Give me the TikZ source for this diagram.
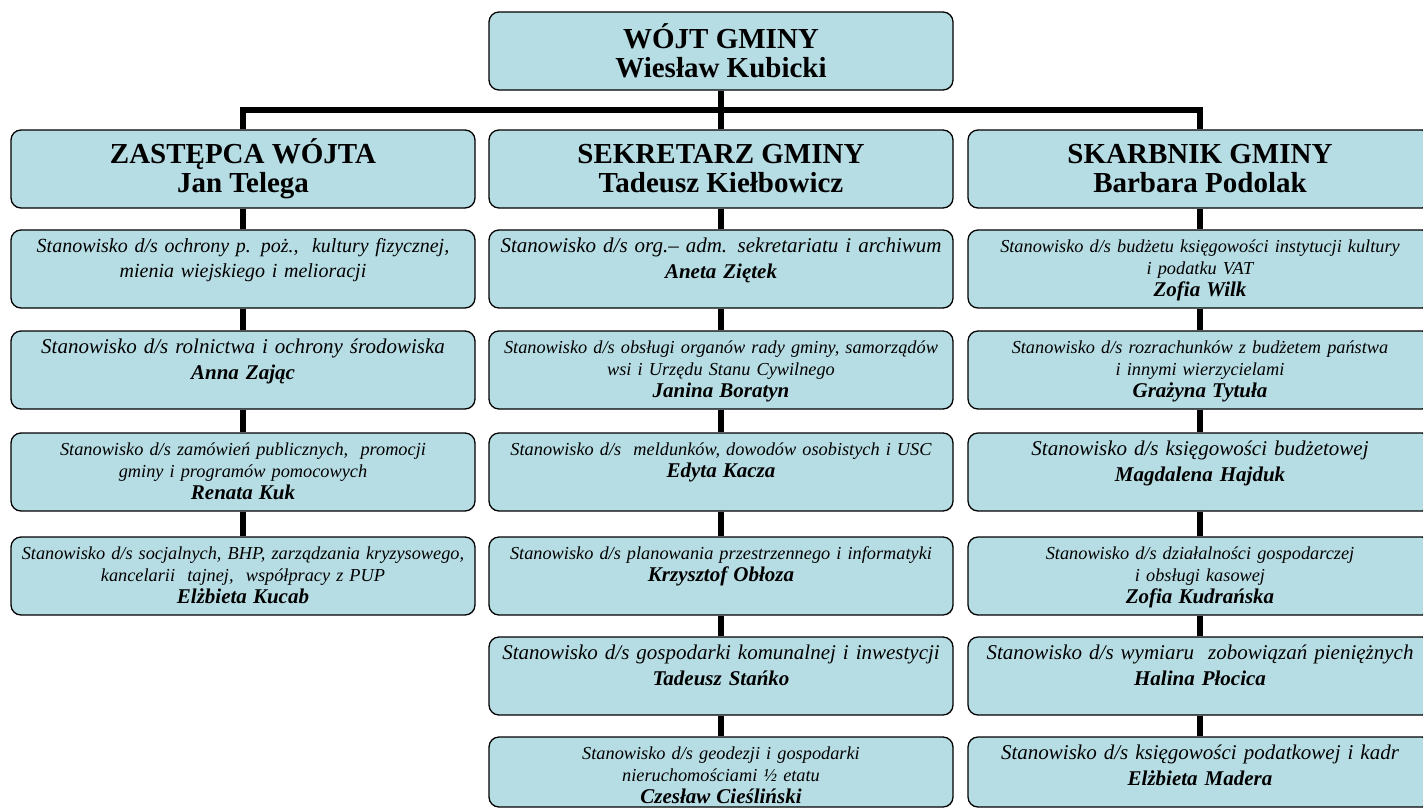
\documentclass[tikz,border=0pt]{standalone}
\usepackage{fontspec}
\setmainfont{Liberation Serif}
\usetikzlibrary{positioning,calc}
\definecolor{boxfill}{RGB}{183,221,228}
\tikzset{
  box/.style={
    draw,
    line width=1.3pt,
    rounded corners=10pt,
    fill=boxfill,
    inner xsep=4pt
  },
  head/.style={
    box,
    minimum width=464pt,
    minimum height=78pt,
    align=center,
    font=\fontsize{29}{29}\selectfont\bfseries
  },
  post/.style={
    box,
    align=center,
    text width=456pt,
    text height=18pt,
    text depth=52pt,
    inner ysep=4pt
  },
  last/.style={text depth=44pt},
  big/.style={font=\fontsize{21}{26}\selectfont\itshape},
  small/.style={font=\fontsize{18.3}{22}\selectfont\itshape},
  conn/.style={line width=5.5pt}
}
\newcommand{\who}[1]{{\fontsize{21}{24}\selectfont\bfseries #1}}

\begin{document}
\begin{tikzpicture}[x=1pt,y=-1pt]
\clip (0,0) rectangle (1423,809);
% kierownictwo
\node (wojt)  [head] at (721,51)   {WÓJT GMINY\\Wiesław Kubicki};
\node (zast)  [head] at (243,169)  {ZASTĘPCA WÓJTA\\Jan Telega};
\node (sekr)  [head] at (721,169)  {SEKRETARZ GMINY\\Tadeusz Kiełbowicz};
\node (skarb) [head] at (1200,169) {SKARBNIK GMINY\\Barbara Podolak};
% zastepca
\node (z1) [post,font=\fontsize{20}{25}\selectfont\itshape] at (243,269) {Stanowisko d/s ochrony p. poż.,\ \ kultury fizycznej,\\mienia wiejskiego i melioracji};
\node (z2) [post,big]   at (243,370) {Stanowisko d/s rolnictwa i ochrony środowiska\\\who{Anna Zając}};
\node (z3) [post,small] at (243,472) {Stanowisko d/s zamówień publicznych,\ \ promocji\\gminy i programów pomocowych\\\who{Renata Kuk}};
\node (z4) [post,small] at (243,576) {Stanowisko d/s socjalnych, BHP, zarządzania kryzysowego,\\kancelarii\ \ tajnej,\ \ współpracy z PUP\\\who{Elżbieta Kucab}};
% sekretarz
\node (s1) [post,big]   at (721,269) {Stanowisko d/s org.– adm. sekretariatu i archiwum\\\who{Aneta Ziętek}};
\node (s2) [post,small] at (721,370) {Stanowisko d/s obsługi organów rady gminy, samorządów\\wsi i Urzędu Stanu Cywilnego\\\who{Janina Boratyn}};
\node (s3) [post,small] at (721,472) {Stanowisko d/s\ \ meldunków, dowodów osobistych i USC\\\who{Edyta Kacza}};
\node (s4) [post,small] at (721,576) {Stanowisko d/s planowania przestrzennego i informatyki\\\who{Krzysztof Obłoza}};
\node (s5) [post,big]   at (721,676) {Stanowisko d/s gospodarki komunalnej i inwestycji\\\who{Tadeusz Stańko}};
\node (s6) [post,small,last] at (721,772) {Stanowisko d/s geodezji i gospodarki\\nieruchomościami ½ etatu\\\who{Czesław Cieśliński}};
% skarbnik
\node (k1) [post,small] at (1200,269) {Stanowisko d/s budżetu księgowości instytucji kultury\\i podatku VAT\\\who{Zofia Wilk}};
\node (k2) [post,small] at (1200,370) {Stanowisko d/s rozrachunków z budżetem państwa\\i innymi wierzycielami\\\who{Grażyna Tytuła}};
\node (k3) [post,big]   at (1200,472) {Stanowisko d/s księgowości budżetowej\\\who{Magdalena Hajduk}};
\node (k4) [post,small] at (1200,576) {Stanowisko d/s działalności gospodarczej\\i obsługi kasowej\\\who{Zofia Kudrańska}};
\node (k5) [post,big]   at (1200,676) {Stanowisko d/s wymiaru\ \ zobowiązań pieniężnych\\\who{Halina Płocica}};
\node (k6) [post,big,last] at (1200,772) {Stanowisko d/s księgowości podatkowej i kadr\\\who{Elżbieta Madera}};
% polaczenia
\coordinate (bar) at (721,110);
\draw[conn] (zast) |- (bar) -| (skarb);
\foreach \a/\b in {wojt/sekr,zast/z1,z1/z2,z2/z3,z3/z4,sekr/s1,s1/s2,s2/s3,s3/s4,s4/s5,s5/s6,skarb/k1,k1/k2,k2/k3,k3/k4,k4/k5,k5/k6}
  \draw[conn] (\a) -- (\b);
\end{tikzpicture}
\end{document}
